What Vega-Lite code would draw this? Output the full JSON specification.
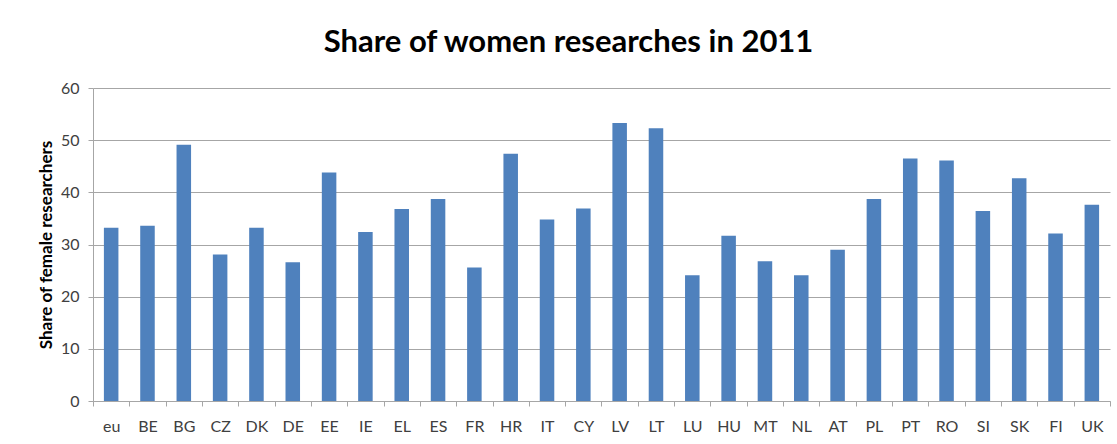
{
  "$schema": "https://vega.github.io/schema/vega-lite/v6.json",
  "autosize": "none",
  "width": 1017,
  "height": 313,
  "padding": {"left": 93, "top": 88, "right": 7, "bottom": 43},
  "background": "white",
  "title": {
    "text": "Share of women researches in 2011",
    "font": "Lato",
    "fontSize": 31,
    "fontWeight": "bold",
    "color": "#000000",
    "anchor": "middle",
    "frame": "group",
    "dx": -33,
    "baseline": "alphabetic",
    "offset": -3
  },
  "data": {
    "values": [
      {"country": "eu", "share": 33.2},
      {"country": "BE", "share": 33.6},
      {"country": "BG", "share": 49.1},
      {"country": "CZ", "share": 28.1},
      {"country": "DK", "share": 33.2},
      {"country": "DE", "share": 26.6},
      {"country": "EE", "share": 43.8},
      {"country": "IE", "share": 32.4},
      {"country": "EL", "share": 36.8},
      {"country": "ES", "share": 38.7},
      {"country": "FR", "share": 25.6},
      {"country": "HR", "share": 47.4},
      {"country": "IT", "share": 34.8},
      {"country": "CY", "share": 36.9},
      {"country": "LV", "share": 53.3},
      {"country": "LT", "share": 52.3},
      {"country": "LU", "share": 24.1},
      {"country": "HU", "share": 31.7},
      {"country": "MT", "share": 26.8},
      {"country": "NL", "share": 24.1},
      {"country": "AT", "share": 29.0},
      {"country": "PL", "share": 38.7},
      {"country": "PT", "share": 46.5},
      {"country": "RO", "share": 46.1},
      {"country": "SI", "share": 36.4},
      {"country": "SK", "share": 42.7},
      {"country": "FI", "share": 32.1},
      {"country": "UK", "share": 37.6}
    ]
  },
  "mark": {"type": "bar", "color": "#4F81BD", "width": {"band": 0.4}},
  "encoding": {
    "x": {
      "field": "country",
      "type": "nominal",
      "sort": null,
      "scale": {"paddingInner": 0, "paddingOuter": 0},
      "axis": {
        "title": null,
        "labelAngle": 0,
        "labelFont": "Lato",
        "labelFontSize": 16,
        "labelColor": "#404040",
        "labelPadding": 12,
        "tickBand": "extent",
        "tickSize": 5,
        "tickColor": "#a6a6a6",
        "domainColor": "#a6a6a6",
        "grid": false
      }
    },
    "y": {
      "field": "share",
      "type": "quantitative",
      "scale": {"domain": [0, 60], "nice": false},
      "axis": {
        "title": "Share of female researchers",
        "titleFont": "Lato",
        "titleFontSize": 17,
        "titleFontWeight": "bold",
        "titleColor": "#000000",
        "titlePadding": 5,
        "values": [0, 10, 20, 30, 40, 50, 60],
        "labelFont": "Lato",
        "labelFontSize": 16,
        "labelColor": "#404040",
        "labelPadding": 9,
        "tickSize": 5,
        "tickColor": "#a6a6a6",
        "domainColor": "#a6a6a6",
        "grid": true,
        "gridColor": "#a6a6a6",
        "gridWidth": 1
      }
    }
  },
  "config": {
    "view": {"stroke": null}
  }
}
